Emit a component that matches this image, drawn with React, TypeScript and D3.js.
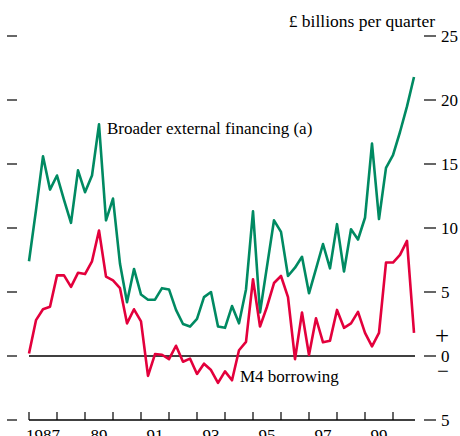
import React from "react";
import * as d3 from "d3";

// quarterly series, 1987 Q1 to 2000 Q4 (£ billions per quarter)
const broaderExternal = [
  7.4, 11.4, 15.6, 13.0, 14.1, 12.2, 10.4, 14.5, 12.8, 14.1, 18.1, 10.6, 12.3,
  7.2, 4.2, 6.8, 4.8, 4.4, 4.4, 5.3, 5.2, 3.6, 2.5, 2.3, 2.9, 4.6, 5.0, 2.3,
  2.2, 3.9, 2.55, 5.2, 11.3, 3.4, 7.0, 10.6, 9.7, 6.25, 6.9, 7.75, 4.9, 6.8,
  8.75, 6.85, 10.3, 6.6, 9.9, 9.1, 10.8, 16.6, 10.7, 14.7, 15.7, 17.5, 19.5,
  21.8,
];
const m4Borrowing = [
  0.2, 2.8, 3.65, 3.85, 6.3, 6.3, 5.4, 6.5, 6.4, 7.4, 9.8, 6.2, 5.9, 5.3,
  2.55, 3.65, 2.7, -1.55, 0.15, 0.1, -0.25, 0.8, -0.45, -0.2, -1.4, -0.6,
  -1.1, -2.1, -1.2, -1.9, 0.45, 1.1, 6.0, 2.3, 3.85, 5.7, 6.25, 4.6, -0.25,
  3.4, 0.08, 2.95, 1.07, 1.2, 3.6, 2.2, 2.55, 3.45, 1.8, 0.75, 1.8, 7.3, 7.3,
  7.9, 9.0, 1.8,
];
const startYear = 1987;
const yearTicks = d3.range(1987, 2001);
const yearLabels = [
  { year: 1987, text: "1987" },
  { year: 1989, text: "89" },
  { year: 1991, text: "91" },
  { year: 1993, text: "93" },
  { year: 1995, text: "95" },
  { year: 1997, text: "97" },
  { year: 1999, text: "99" },
];
const yTicks = [25, 20, 15, 10, 5, 0, -5];

const width = 460;
const height = 436;
const font = "'Liberation Serif', 'DejaVu Serif', serif";
const green = "#008a62";
const red = "#e3003c";

export default function App() {
  const x = d3.scaleLinear().domain([1987, 2001]).range([29, 421]);
  const y = d3.scaleLinear().domain([-5, 25]).range([420, 36]);

  const qx = (i: number) => x(startYear + i / 4);

  const line = d3
    .line<number>()
    .x((_, i) => qx(i))
    .y((d) => y(d));

  const axisEnd = qx(broaderExternal.length - 1) + 1;

  return (
    <svg
      width={width}
      height={height}
      style={{ position: "absolute", left: 0, top: 0, background: "#fff" }}
      fontFamily={font}
    >
      {/* left ticks */}
      {yTicks.map((t) => (
        <line key={"l" + t} x1={7} x2={17} y1={y(t)} y2={y(t)} stroke="#000" strokeWidth={1.2} />
      ))}
      {/* right ticks + labels */}
      {yTicks.map((t) => (
        <g key={"r" + t}>
          <line x1={424} x2={436} y1={y(t)} y2={y(t)} stroke="#000" strokeWidth={1.2} />
          <text x={441} y={y(t) + 5.5} fontSize={17} fill="#000">
            {Math.abs(t)}
          </text>
        </g>
      ))}
      <text x={442} y={344} fontSize={25} textAnchor="middle" fill="#000">+</text>
      <text x={443} y={378} fontSize={21} textAnchor="middle" fill="#000">−</text>

      <text x={435} y={27} fontSize={17.5} textAnchor="end" fill="#000">
        £ billions per quarter
      </text>

      {/* zero line */}
      <line x1={x(1987)} x2={axisEnd} y1={y(0)} y2={y(0)} stroke="#000" strokeWidth={1.5} />

      {/* x axis */}
      <line x1={x(1987)} x2={axisEnd} y1={y(-5)} y2={y(-5)} stroke="#000" strokeWidth={1.5} />
      {yearTicks.map((yr) => (
        <line key={yr} x1={x(yr)} x2={x(yr)} y1={y(-5)} y2={y(-5) - 8} stroke="#000" strokeWidth={1.2} />
      ))}
      {yearLabels.map((l) => (
        <text key={l.text} x={x(l.year + 0.5)} y={441} fontSize={17} textAnchor="middle" fill="#000">
          {l.text}
        </text>
      ))}

      <path d={line(broaderExternal) || ""} fill="none" stroke={green} strokeWidth={2.6} strokeLinejoin="round" />
      <path d={line(m4Borrowing) || ""} fill="none" stroke={red} strokeWidth={2.6} strokeLinejoin="round" />

      <text x={107} y={134} fontSize={17} fill="#000">
        Broader external financing (a)
      </text>
      <text x={240} y={382} fontSize={17} fill="#000">
        M4 borrowing
      </text>
    </svg>
  );
}
